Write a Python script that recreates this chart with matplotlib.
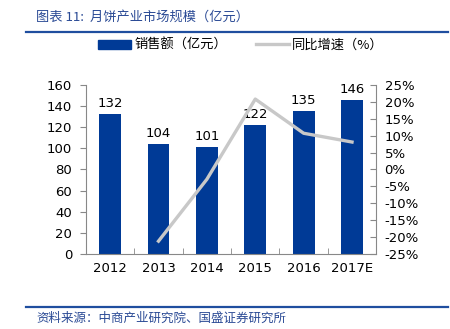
import matplotlib.pyplot as plt
from matplotlib.lines import Line2D

plt.rcParams['font.family'] = ['DejaVu Sans', 'Noto Sans CJK SC']

years = ['2012', '2013', '2014', '2015', '2016', '2017E']
sales = [132, 104, 101, 122, 135, 146]
growth_years = ['2013', '2014', '2015', '2016', '2017E']
growth = [-21.2, -2.9, 20.8, 10.7, 8.1]

bar_color = '#003A96'
line_color = '#C8C8C8'
text_blue = '#2A4A95'
cjk = ['Noto Sans CJK SC', 'DejaVu Sans']

fig = plt.figure(figsize=(4.5, 3.29), dpi=100)
ax = fig.add_axes([0.191, 0.228, 0.645, 0.514])

x = range(len(years))
bars = ax.bar(x, sales, width=0.45, color=bar_color, zorder=2)
ax.bar_label(bars, padding=3, fontsize=9.5)
ax.set_xlim(-0.5, len(years) - 0.5)
ax.set_ylim(0, 160)
ax.set_yticks(range(0, 161, 20))
ax.set_xticks(list(x))
ax.set_xticklabels(years, fontsize=9.5)
ax.set_xticks([i + 0.5 for i in range(-1, len(years))], minor=True)
ax.tick_params(axis='x', which='major', length=0, pad=6)
ax.tick_params(axis='x', which='minor', direction='in', length=4, color='#888888')
ax.tick_params(axis='y', labelsize=9.5, length=4, color='#888888', pad=6)
for side in ['top', 'right']:
    ax.spines[side].set_visible(False)
for side in ['left', 'bottom']:
    ax.spines[side].set_color('#888888')

ax2 = ax.twinx()
gx = [years.index(y) for y in growth_years]
ax2.plot(gx, growth, color=line_color, lw=2.4, zorder=3)
ax2.set_ylim(-25, 25)
ax2.set_yticks(range(-25, 26, 5))
ax2.set_yticklabels([f'{v}%' for v in range(-25, 26, 5)])
ax2.tick_params(axis='y', direction='in', labelsize=9.5, length=4, color='#888888', pad=6)
for side in ['top', 'left', 'bottom']:
    ax2.spines[side].set_visible(False)
ax2.spines['right'].set_color('#888888')

# legend sits above the plot, centred over the figure
handles = [plt.Rectangle((0, 0), 1, 1, color=bar_color),
           Line2D([0], [0], color=line_color, lw=2.4)]
fig.legend(handles, ['销售额（亿元）', '同比增速（%）'], loc='center',
           bbox_to_anchor=(0.535, 0.862), ncol=2, frameon=False,
           prop={'family': cjk, 'size': 9.5}, handlelength=2.5,
           handletextpad=0.2, columnspacing=2.2)

fig.text(0.08, 0.948, '图表 11:  月饼产业市场规模（亿元）', family=cjk, fontsize=9.5,
         color=text_blue, style='italic', va='center')
fig.add_artist(Line2D([0.058, 0.995], [0.903, 0.903], color='#1F4E9F', lw=1.6))
fig.add_artist(Line2D([0.058, 0.995], [0.067, 0.067], color='#1F4E9F', lw=1.6))
fig.text(0.08, 0.033, '资料来源：中商产业研究院、国盛证券研究所', family=cjk, fontsize=9,
         color=text_blue, style='italic', va='center')

fig.savefig('out.png', dpi=100)
